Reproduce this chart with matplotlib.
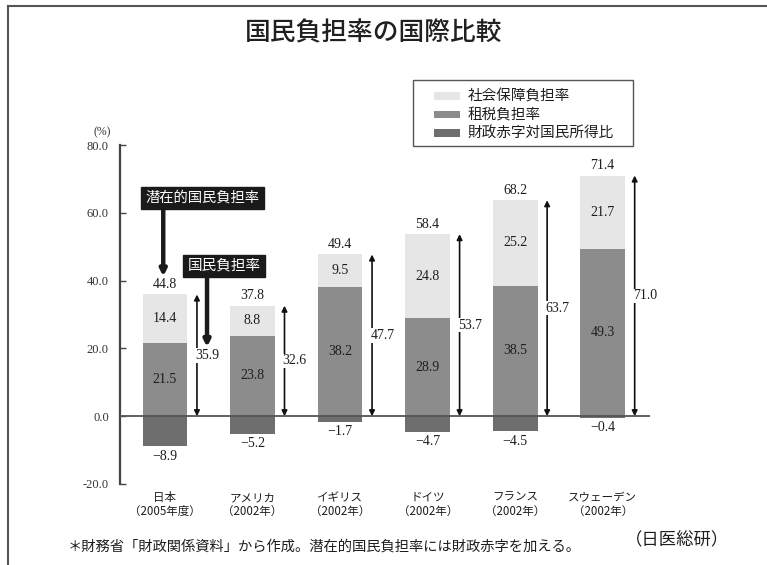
import matplotlib
matplotlib.use("Agg")
import matplotlib.pyplot as plt
from matplotlib.patches import Rectangle
from matplotlib.lines import Line2D

plt.rcParams['font.family'] = ['Noto Sans CJK JP', 'DejaVu Sans']

# ---- data ----
countries = ["日本\n（2005年度）", "アメリカ\n（2002年）", "イギリス\n（2002年）",
             "ドイツ\n（2002年）", "フランス\n（2002年）", "スウェーデン\n（2002年）"]
social = [14.4, 8.8, 9.5, 24.8, 25.2, 21.7]
tax = [21.5, 23.8, 38.2, 28.9, 38.5, 49.3]
deficit = [-8.9, -5.2, -1.7, -4.7, -4.5, -0.4]
national = [35.9, 32.6, 47.7, 53.7, 63.7, 71.0]
potential = [44.8, 37.8, 49.4, 58.4, 68.2, 71.4]
yticks = [-20, 0, 20, 40, 60, 80]
legend_labels = ["社会保障負担率", "租税負担率", "財政赤字対国民所得比"]

W, H = 767, 565
def px(x, y):
    return (x / W, 1 - y / H)

c_social = "#e6e6e6"
c_tax = "#8c8c8c"
c_def = "#6e6e6e"
serif = ["Liberation Serif", "DejaVu Serif"]
tc = "#1e1e1e"

fig = plt.figure(figsize=(W / 100, H / 100), dpi=100)
ax = fig.add_axes([120 / W, 81 / H, 530 / W, 339 / H])
ax.set_ylim(-20, 80)
ax.set_xlim(-0.514, 5.54)

x = list(range(len(countries)))
bw = 0.51
ax.bar(x, tax, width=bw, color=c_tax, zorder=2)
ax.bar(x, social, width=bw, bottom=tax, color=c_social, zorder=2)
ax.bar(x, deficit, width=bw, color=c_def, zorder=2)
ax.axhline(0, color="#555555", lw=1.3, zorder=3)

nfs = 10
for i in x:
    ax.annotate(f"{tax[i]:.1f}", (i, tax[i] / 2), ha="center", va="center",
                fontsize=nfs, family=serif, color=tc, zorder=4)
    ax.annotate(f"{social[i]:.1f}", (i, tax[i] + social[i] / 2), ha="center", va="center",
                fontsize=nfs, family=serif, color=tc, zorder=4)
    ax.annotate(f"{potential[i]:.1f}", (i, tax[i] + social[i]), xytext=(0, 7),
                textcoords="offset points", ha="center", va="center",
                fontsize=nfs, family=serif, color=tc)
    ax.annotate(f"{deficit[i]:.1f}".replace("-", "−"), (i, deficit[i]), xytext=(0, -7),
                textcoords="offset points", ha="center", va="center",
                fontsize=nfs, family=serif, color=tc)
    ax_x = i + 0.365
    ax.annotate("", xy=(ax_x, national[i]), xytext=(ax_x, 0),
                arrowprops=dict(arrowstyle="<|-|>", lw=1.2, color="#111111",
                                mutation_scale=8, shrinkA=0, shrinkB=0), zorder=3)
    ax.annotate(f"{national[i]:.1f}", (ax_x - 0.02, national[i] / 2), ha="left", va="center",
                fontsize=nfs, family=serif, color=tc, zorder=5,
                bbox=dict(boxstyle="square,pad=0.05", fc="white", ec="none"))

ax.set_yticks(yticks)
ax.set_yticklabels([f"{v:.1f}" for v in yticks], family=serif, fontsize=9, color="#333333")
ax.tick_params(axis="y", direction="in", length=4, width=1, pad=8, color="#444444")
ax.set_xticks(x)
ax.set_xticklabels(countries, fontsize=8.3, color=tc, linespacing=1.05)
ax.tick_params(axis="x", length=0, pad=5)
for s in ["top", "right", "bottom"]:
    ax.spines[s].set_visible(False)
ax.spines["left"].set_color("#444444")
ax.spines["left"].set_linewidth(1.6)
ax.patch.set_alpha(0)

fig.text(*px(102, 132), "(%)", ha="center", va="center", fontsize=8.5, family=serif, color="#333333")

# title
fig.text(*px(374, 33), "国民負担率の国際比較", ha="center", va="center",
         fontsize=18.5, color="#202020", fontweight="medium")

# legend box
fig.patches.append(Rectangle(px(413, 146), 220 / W, 66 / H, transform=fig.transFigure,
                             fill=False, ec="#555555", lw=1))
for k, (lab, col) in enumerate(zip(legend_labels, [c_social, c_tax, c_def])):
    yy = [96, 115, 133][k]
    fig.patches.append(Rectangle(px(434, yy + 3.5), 26 / W, 7 / H, transform=fig.transFigure,
                                 color=col, ec="none"))
    fig.text(*px(468, yy), lab, ha="left", va="center", fontsize=10.5, color=tc)

# callout boxes
box = dict(boxstyle="square,pad=0.3", fc="#1a1a1a", ec="#1a1a1a")
fig.text(*px(202.5, 198), "潜在的国民負担率", ha="center", va="center",
         fontsize=10.3, color="white", bbox=box)
ax.annotate("", xy=(-0.02, national[0]), xycoords="data",
            xytext=(-0.02, 0.817), textcoords=("data", "axes fraction"),
            arrowprops=dict(arrowstyle="-|>", lw=3.2, color="#1a1a1a",
                            mutation_scale=9, shrinkA=0, shrinkB=13))
fig.text(*px(224, 266), "国民負担率", ha="center", va="center",
         fontsize=10.5, color="white", bbox=box)
ax.annotate("", xy=(0.48, national[0] / 2), xycoords="data",
            xytext=(0.48, 0.614), textcoords=("data", "axes fraction"),
            arrowprops=dict(arrowstyle="-|>", lw=3.2, color="#1a1a1a",
                            mutation_scale=9, shrinkA=0, shrinkB=6))

# footnotes
fig.text(*px(68, 547), "＊財務省「財政関係資料」から作成。潜在的国民負担率には財政赤字を加える。",
         ha="left", va="center", fontsize=10.3, color=tc)
fig.text(*px(677, 540), "（日医総研）", ha="center", va="center", fontsize=12.5, color=tc)

# scan frame
fig.lines.append(Line2D([8 / W, 1], [1 - 6 / H, 1 - 6 / H], transform=fig.transFigure,
                        color="#555555", lw=1.5))
fig.lines.append(Line2D([8 / W, 8 / W], [1 - 6 / H, 0], transform=fig.transFigure,
                        color="#555555", lw=1.5))

fig.savefig("out.png", dpi=100)
